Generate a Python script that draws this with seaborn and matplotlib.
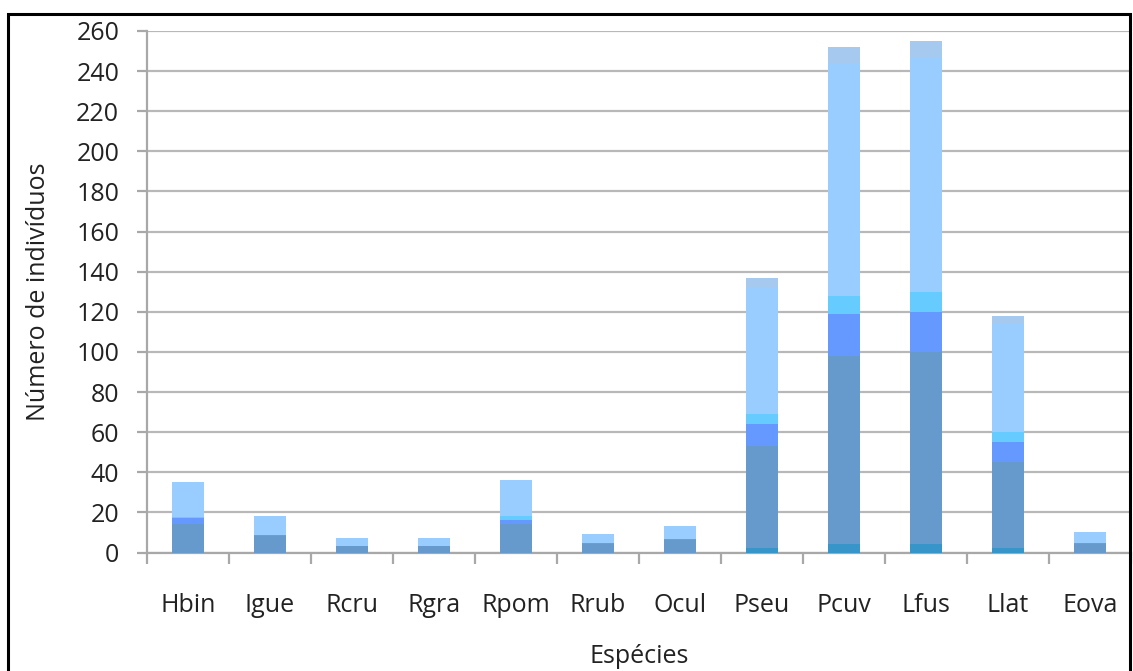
import numpy as np
import matplotlib
matplotlib.use("Agg")
import matplotlib.pyplot as plt
import seaborn as sns
from matplotlib.patches import Rectangle

categories = ["Hbin", "Igue", "Rcru", "Rgra", "Rpom", "Rrub", "Ocul", "Pseu", "Pcuv", "Lfus", "Llat", "Eova"]

# stacked segments, bottom to top
seg_base   = [0, 0, 0, 0, 0, 0, 0, 2, 4, 4, 2, 0]
seg_main   = [14, 8, 3, 3, 14, 4, 6, 51, 94, 96, 43, 4]
seg_mid    = [3, 0.5, 0, 0, 2, 0.5, 0.5, 11, 21, 20, 10, 0.5]
seg_cyan   = [0.5, 0, 0, 0, 2, 0, 0, 5, 9, 10, 5, 0]
seg_light  = [17.5, 9.5, 4, 4, 18, 4.5, 6.5, 63, 116, 117, 54, 5.5]
seg_top    = [0, 0, 0, 0, 0, 0, 0, 5, 8, 8, 4, 0]

yticks = list(range(0, 261, 20))

segments = [seg_base, seg_main, seg_mid, seg_cyan, seg_light, seg_top]
colors = ["#3795C9", "#6699CC", "#6699FF", "#66CCFF", "#99CCFF", "#A6C9F0"]

sns.set_style("white")
plt.rcParams['font.family'] = ['Open Sans', 'DejaVu Sans']

fig = plt.figure(figsize=(11.33, 6.71), dpi=100)
ax = fig.add_axes([147 / 1133, 1 - 552.5 / 671, (1131 - 147) / 1133, (552.5 - 31) / 671])

cum = np.cumsum(np.array(segments, dtype=float), axis=0)
for i in range(len(segments) - 1, -1, -1):
    sns.barplot(x=categories, y=cum[i], color=colors[i], saturation=1,
                width=0.39, ax=ax, linewidth=0, zorder=3)

ax.set_ylim(0, 260)
ax.set_xlim(-0.5, len(categories) - 0.5)
ax.set_yticks(yticks)
ax.set_yticklabels([str(v) for v in yticks], fontsize=18, color="#222222")
ax.yaxis.grid(True, color="#B8B8B8", linewidth=1.6, zorder=0)
ax.xaxis.grid(False)
ax.set_axisbelow(True)

for s in ["top", "right"]:
    ax.spines[s].set_visible(False)
for s in ["left", "bottom"]:
    ax.spines[s].set_color("#A8A8A8")
    ax.spines[s].set_linewidth(1.6)

ax.tick_params(axis="y", which="major", direction="out", length=7, width=1.6,
               color="#A8A8A8", pad=13, left=True)
ax.set_xticks(range(len(categories)))
ax.set_xticklabels(categories, fontsize=18, color="#222222")
ax.tick_params(axis="x", which="major", length=0, pad=29)
ax.set_xticks(np.arange(-0.5, len(categories), 1.0), minor=True)
ax.tick_params(axis="x", which="minor", direction="out", length=8, width=1.6,
               color="#A8A8A8", bottom=True)

ax.set_xlabel("Espécies", fontsize=18, color="#222222", labelpad=19)
ax.set_ylabel("Número de indivíduos", fontsize=18, color="#222222", labelpad=18)

fig.patches.append(Rectangle((8 / 1133, -0.1), (1130 - 8) / 1133, 1.1 - 14 / 671,
                             transform=fig.transFigure, fill=False,
                             edgecolor="black", linewidth=2.2))

fig.savefig("out.png", dpi=100)
